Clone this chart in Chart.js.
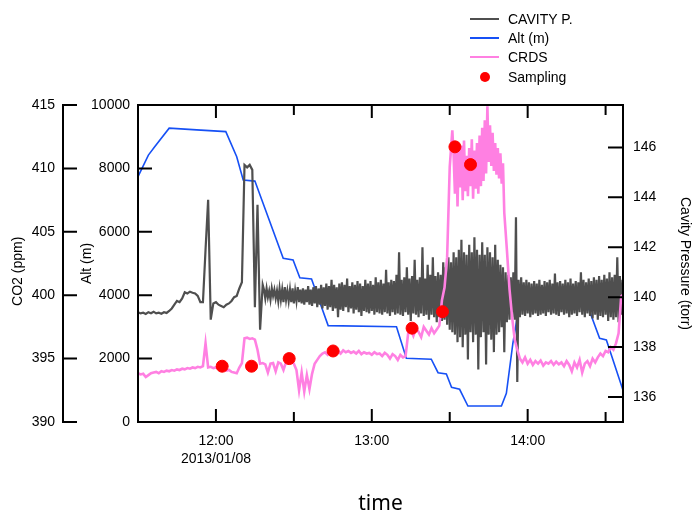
<!DOCTYPE html>
<html>
<head>
<meta charset="utf-8">
<script src="https://cdn.jsdelivr.net/npm/chart.js@4"></script>
<style>
  body { margin: 0; background: #fff; }
  #wrap { position: relative; width: 697px; height: 514px; }
  #legend { position: absolute; left: 470px; top: 9px; font: 14px 'Liberation Sans', Arial, sans-serif; color: #000; }
  .row { height: 19.3px; display: flex; align-items: center; }
  .key { width: 29px; margin-right: 9px; display: flex; justify-content: center; align-items: center; }
</style>
</head>
<body>
<div id="wrap">
  <canvas id="chart" width="697" height="514"></canvas>
  <div id="legend"></div>
</div>
<script>
// time axis is in minutes after midnight (2013/01/08)
const hourTicks = [720, 780, 840];
const hourLabels = [['12:00', '2013/01/08'], '13:00', '14:00'];

// Cavity pressure (torr): one reading per minute 11:30-12:18, then every 30 s
const pressEarlyStart = 690;
const pressEarly = [
  139.40, 139.35, 139.38, 139.33, 139.40, 139.36, 139.42, 139.35, 139.38, 139.34, 139.40, 139.37, 139.45,
  139.55, 139.70, 139.85, 139.80, 139.95, 140.20, 140.15, 140.22, 140.18, 140.15, 140.05, 139.80,
  139.80, 141.90, 143.90, 139.10, 139.75,
  139.80, 139.70, 139.65, 139.60, 139.70, 139.75, 139.85, 140.00, 140.05, 140.35,
  140.60, 145.30, 145.20, 145.30, 145.10, 139.60, 143.70, 138.70, 140.50
];
const pressLateStart = 738.5;
const pressLate = [
  140.30, 139.95, 140.35, 140.00, 140.25, 139.90, 140.35, 140.05, 140.30, 139.95,
  140.25, 139.85, 140.35, 139.90, 140.30, 139.80, 140.40, 139.90, 140.25, 139.85,
  140.30, 139.80, 140.35, 139.75, 140.25, 139.85, 140.40, 139.80, 140.30, 139.75,
  140.35, 139.70, 140.30, 139.80, 140.45, 139.70, 140.30, 139.65, 140.40, 139.75,
  140.45, 139.60, 140.35, 139.70, 140.50, 139.55, 140.40, 139.65, 140.55, 139.50,
  140.45, 139.60, 140.70, 139.45, 140.50, 139.55, 140.40, 139.20, 140.55, 139.50,
  140.60, 139.45, 140.50, 139.60, 140.75, 139.40, 140.45, 139.55, 140.60, 139.35,
  140.50, 139.50, 140.65, 139.40, 140.55, 139.25, 140.45, 139.45, 140.70, 139.40,
  140.55, 139.35, 140.65, 139.45, 140.50, 139.30, 140.80, 139.40, 140.60, 139.35,
  140.70, 139.30, 140.55, 139.40, 141.10, 139.35, 140.60, 139.25, 140.70, 139.40,
  140.65, 139.30, 140.90, 139.35, 141.80, 139.30, 140.70, 139.25, 140.80, 139.40,
  141.20, 139.30, 140.75, 139.05, 140.85, 139.35, 141.50, 139.30, 140.70, 139.20,
  140.80, 139.35, 142.00, 139.25, 140.75, 139.30, 141.30, 139.10, 140.90, 139.30,
  141.60, 139.20, 140.85, 139.00, 141.00, 139.20, 140.90, 139.05, 141.40, 139.10,
  141.20, 138.90, 141.60, 138.70, 141.40, 138.60, 141.80, 138.50, 141.60, 138.20,
  141.90, 138.40, 142.30, 138.00, 141.80, 138.50, 141.70, 137.50, 142.10, 138.60,
  141.80, 138.20, 142.40, 138.50, 141.90, 137.10, 141.70, 138.40, 142.20, 138.60,
  141.70, 137.30, 142.00, 138.50, 141.80, 138.30, 141.60, 137.80, 142.10, 138.50,
  141.50, 138.60, 141.30, 138.80, 141.20, 137.80, 141.00, 139.00, 140.90, 139.10,
  140.80, 139.20, 141.00, 139.10, 143.20, 136.60, 140.70, 139.20, 140.80, 139.30,
  140.60, 139.25, 140.70, 139.35, 140.60, 139.20, 140.55, 139.30, 140.65, 139.35,
  140.55, 139.25, 140.70, 139.30, 140.50, 139.35, 140.65, 139.25, 140.60, 139.40,
  140.70, 139.30, 140.55, 139.35, 140.95, 139.30, 140.60, 139.25, 140.65, 139.40,
  140.55, 139.30, 140.70, 139.35, 140.60, 139.20, 140.75, 139.30, 140.55, 139.35,
  140.65, 139.25, 140.60, 139.40, 141.00, 139.30, 140.70, 139.20, 140.60, 139.35,
  140.75, 139.25, 140.65, 139.15, 140.80, 139.30, 140.70, 139.10, 140.85, 139.25,
  140.70, 139.20, 140.90, 139.30, 140.75, 139.05, 141.00, 139.20, 140.80, 139.10,
  140.90, 139.20, 141.60, 139.00, 140.85, 139.30, 140.70
];

// CRDS CO2 (ppm): per minute, every 30 s around the plume peak
const crdsAStart = 690;
const crdsA = [
  393.85, 393.75, 393.80, 393.55, 393.70, 393.85,
  393.90, 393.95, 393.85, 394.00, 393.95, 394.05, 394.00, 394.10, 394.05, 394.15,
  394.10, 394.20, 394.15, 394.25, 394.20, 394.30, 394.25, 394.35, 394.30, 394.40,
  396.20,
  394.30, 394.35, 394.25, 394.30, 394.20, 394.15, 394.20, 394.05, 394.10, 393.95, 393.90, 393.85,
  394.30, 394.65,
  396.60, 396.65, 396.55, 396.60, 396.50,
  395.70, 394.60,
  394.65, 394.55, 393.90, 394.60, 394.65, 394.00, 394.70, 394.60, 394.10, 394.75, 394.70, 394.80, 394.60,
  394.10, 392.50, 393.90, 392.40, 393.70, 392.60, 393.80,
  394.60, 394.90, 395.20, 395.40, 395.50, 395.30, 395.60, 395.70,
  395.55, 395.60, 395.40, 395.65, 395.50, 395.60, 395.45, 395.55, 395.40, 395.60,
  395.35, 395.50, 395.40, 395.45, 395.30, 395.50, 395.35, 395.40, 395.20, 395.45,
  395.30, 395.00, 395.35, 395.20, 394.90, 395.30, 395.10, 395.20,
  397.00, 397.30, 396.80, 397.40, 397.10, 396.70, 397.50, 397.20, 396.90, 397.40, 397.00, 397.30, 397.60,
  399.60, 400.60, 403.00, 410.10, 413.00
];
const crdsBStart = 811.5;
const crdsB = [
  411.0, 408.0, 412.0, 407.0, 411.5, 408.5, 411.8, 407.5, 412.2, 408.2,
  411.0, 407.8, 411.6, 408.6, 412.3, 407.6, 411.4, 408.4, 412.0, 408.0,
  412.6, 408.6, 413.2, 409.0, 413.8, 409.6, 414.9, 410.5, 413.4, 410.2,
  412.8, 409.8, 412.0, 409.5, 411.6, 409.2, 411.2, 408.8, 410.4
];
const crdsCStart = 831;
const crdsC = [
  406.50, 403.60, 400.50, 398.30, 396.50, 395.70,
  395.00, 394.70, 395.10, 394.60, 394.90, 394.50, 394.80, 394.60, 394.85, 394.45,
  394.70, 394.60, 394.80, 394.50, 394.75, 394.55, 394.70, 394.40, 394.80, 394.50,
  394.00, 394.70, 394.30, 394.90, 393.90, 394.60, 394.80, 394.40, 395.00, 394.70, 395.10,
  395.40, 395.20, 395.60, 395.50, 395.90, 395.70, 396.20, 397.00, 399.90, 400.10
];

// altitude (m)
const altTime = [690, 694, 696.5, 702, 712.6, 723.8, 728, 730.5, 735, 745.9, 749.7, 752.3, 756.8, 763.2,
  789.5, 793.3, 802.9, 805.5, 808.7, 810.7, 813.8, 817, 829.9, 831.8, 834.3, 837, 862, 863.2, 867.7, 870.3, 876.7];
const altValue = [7740, 8420, 8690, 9270, 9215, 9160, 8370, 7635, 7600, 5165, 5110, 4550, 4510, 3040,
  3005, 2010, 1980, 1556, 1514, 1095, 1032, 505, 505, 905, 2480, 3800, 3750, 3640, 2640, 2590, 1000];

// flask sampling (CO2 ppm)
const sampleTime = [722.4, 733.7, 748.2, 765.1, 795.5, 807.2, 812.0, 818.0];
const sampleCO2 = [394.4, 394.4, 395.0, 395.6, 397.4, 398.7, 411.7, 410.3];

const GRAY = '#4f4f4f', BLUE = '#1650f5', PINK = '#ff80e2', RED = '#ff0000';

const pairs = (xs, ys) => ys.map((y, i) => ({ x: xs[i], y }));
const stepped = (start, step, ys) => ys.map((y, i) => ({ x: start + i * step, y }));

Chart.defaults.font.family = "'Liberation Sans', Arial, sans-serif";
Chart.defaults.font.size = 14;
Chart.defaults.color = '#000';

// axis frame and inward tick marks
const frame = {
  id: 'frame',
  afterDraw(chart) {
    const { ctx, chartArea: a, scales } = chart;
    ctx.save();
    ctx.strokeStyle = '#000';
    ctx.lineWidth = 2;
    ctx.strokeRect(a.left, a.top, a.right - a.left, a.bottom - a.top);
    const co2 = scales.yCO2;
    ctx.beginPath();
    ctx.moveTo(co2.right, a.top - 1);
    ctx.lineTo(co2.right, a.bottom + 1);
    co2.ticks.forEach(t => {
      const y = co2.getPixelForValue(t.value);
      ctx.moveTo(co2.right, y); ctx.lineTo(co2.right + 14, y);
    });
    scales.yAlt.ticks.forEach(t => {
      const y = scales.yAlt.getPixelForValue(t.value);
      ctx.moveTo(a.left, y); ctx.lineTo(a.left + 14, y);
    });
    scales.yP.ticks.forEach(t => {
      const y = scales.yP.getPixelForValue(t.value);
      ctx.moveTo(a.right, y); ctx.lineTo(a.right - 15, y);
    });
    scales.x.ticks.forEach(t => {
      const x = scales.x.getPixelForValue(t.value);
      if (x <= a.left + 2 || x >= a.right - 2) return;
      const len = t.value % 60 === 0 ? 13 : 10;
      ctx.moveTo(x, a.bottom); ctx.lineTo(x, a.bottom - len);
      ctx.moveTo(x, a.top); ctx.lineTo(x, a.top + len);
    });
    ctx.stroke();
    ctx.restore();
  }
};

const noGrid = { display: false, drawTicks: false };

const chart = new Chart(document.getElementById('chart'), {
  type: 'line',
  data: {
    datasets: [
      { label: 'Sampling', type: 'scatter', data: pairs(sampleTime, sampleCO2), yAxisID: 'yCO2',
        backgroundColor: RED, borderColor: RED, pointRadius: 6, order: 0, legendKey: 'dot' },
      { label: 'CRDS', yAxisID: 'yCO2',
        data: [...stepped(crdsAStart, 1, crdsA), ...stepped(crdsBStart, 0.5, crdsB), ...stepped(crdsCStart, 1, crdsC)],
        borderColor: PINK, borderWidth: 2.6, pointRadius: 0, order: 1 },
      { label: 'CAVITY P.', yAxisID: 'yP',
        data: [...stepped(pressEarlyStart, 1, pressEarly), ...stepped(pressLateStart, 0.5, pressLate)],
        borderColor: GRAY, borderWidth: 2.2, pointRadius: 0, order: 2 },
      { label: 'Alt (m)', data: pairs(altTime, altValue), yAxisID: 'yAlt',
        borderColor: BLUE, borderWidth: 1.6, pointRadius: 0, order: 3 }
    ]
  },
  options: {
    responsive: false,
    animation: false,
    layout: { padding: { top: 105, left: 0, right: 0, bottom: 0 } },
    plugins: { legend: { display: false }, tooltip: { enabled: false } },
    scales: {
      x: {
        type: 'linear', min: 690, max: 876.7,
        grid: noGrid, border: { display: false },
        ticks: {
          stepSize: 30, includeBounds: false, autoSkip: false, maxRotation: 0, padding: 10,
          font: { size: 14, lineHeight: 1.3 },
          callback: v => { const k = hourTicks.indexOf(v); return k >= 0 ? hourLabels[k] : ''; }
        },
        title: { display: true, text: 'time', font: { family: "'Noto Sans', 'Open Sans', sans-serif", size: 21 }, padding: { top: 0, bottom: -3 } },
        afterFit: s => { s.height = 92; }
      },
      yCO2: {
        position: 'left', weight: 1, min: 390, max: 415,
        grid: noGrid, border: { display: false },
        ticks: { stepSize: 5, includeBounds: false, padding: 8, callback: v => String(v) },
        title: { display: true, text: 'CO2 (ppm)    ', padding: { top: 10, bottom: 0 } },
        afterFit: s => { s.width = 63; }
      },
      yAlt: {
        position: 'left', weight: 0, min: 0, max: 10000,
        grid: noGrid, border: { display: false },
        ticks: { stepSize: 2000, includeBounds: false, padding: 8, callback: v => String(v) },
        title: { display: true, text: 'Alt (m)', padding: { top: 16, bottom: 0 } },
        afterFit: s => { s.width = 75; }
      },
      yP: {
        position: 'right', min: 135.0, max: 147.7,
        grid: noGrid, border: { display: false },
        ticks: { stepSize: 2, includeBounds: false, padding: 10,
          callback: v => (v % 2 === 0 ? String(v) : '') },
        title: { display: true, text: 'Cavity Pressure (torr)', padding: { top: 4, bottom: 0 } },
        afterFit: s => { s.width = 74; }
      }
    }
  },
  plugins: [frame]
});

// legend in the order of the original figure
const legendOrder = ['CAVITY P.', 'Alt (m)', 'CRDS', 'Sampling'];
const legend = document.getElementById('legend');
legendOrder.forEach(name => {
  const ds = chart.data.datasets.find(d => d.label === name);
  const row = document.createElement('div');
  row.className = 'row';
  const key = document.createElement('span');
  key.className = 'key';
  const mark = document.createElement('span');
  if (ds.legendKey === 'dot') {
    mark.style.cssText = `width:10px;height:10px;border-radius:50%;background:${ds.backgroundColor}`;
  } else {
    mark.style.cssText = `width:29px;height:2px;background:${ds.borderColor}`;
  }
  key.appendChild(mark);
  const txt = document.createElement('span');
  txt.textContent = name;
  row.appendChild(key);
  row.appendChild(txt);
  legend.appendChild(row);
});
</script>
</body>
</html>
